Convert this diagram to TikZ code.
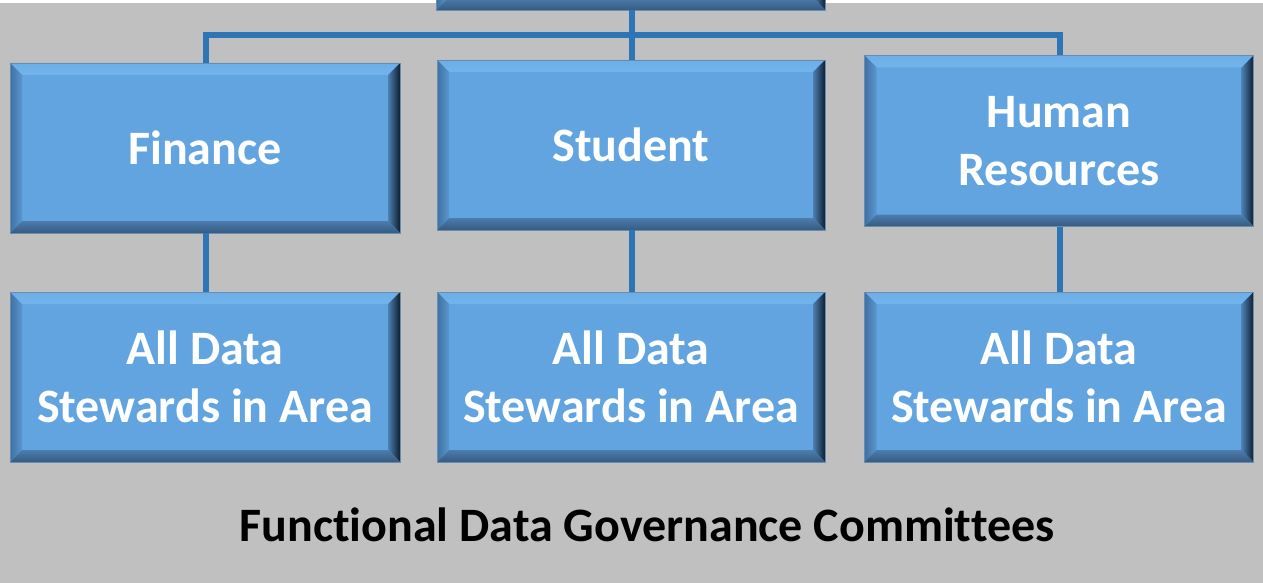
\documentclass[tikz,border=0pt]{standalone}
\usepackage{fontspec}
\setmainfont{Carlito}[Ligatures=NoCommon]
\definecolor{bg}{HTML}{C0C0C0}
\definecolor{boxfill}{HTML}{62A4E0}
\definecolor{boxline}{HTML}{6A8CAE}
\definecolor{topfill}{HTML}{4677A8}
\definecolor{connc}{HTML}{2E75B6}
\definecolor{bevTa}{HTML}{6CAEE8}
\definecolor{bevTb}{HTML}{9AD5FF}
\definecolor{bevTc}{HTML}{64A7E2}
\definecolor{bevLa}{HTML}{3F71A3}
\definecolor{bevLb}{HTML}{5A97CF}
\definecolor{bevRa}{HTML}{4C80B3}
\definecolor{bevRb}{HTML}{0F1F30}
\definecolor{bevBa}{HTML}{4C7DAE}
\definecolor{bevBb}{HTML}{355A80}
\newcommand{\boxfont}{\fontsize{48}{58}\selectfont\bfseries}
\newcommand{\capfont}{\fontsize{48}{56}\selectfont\bfseries}
\tikzset{
  bevbox/.style={rectangle, inner sep=0pt, outer sep=0pt,
    minimum width=390pt, minimum height=170pt,
    fill=#1, draw=boxline, line width=0.8pt,
    text=white, font=\boxfont, align=center,
    path picture={
      \shade[top color=bevTa, bottom color=bevTc, middle color=bevTb]
        (path picture bounding box.north west) -- (path picture bounding box.north east)
        -- ([shift={(-12pt,-12pt)}]path picture bounding box.north east)
        -- ([shift={(12pt,-12pt)}]path picture bounding box.north west) -- cycle;
      \shade[left color=bevLa, right color=bevLb]
        (path picture bounding box.north west) -- ([shift={(12pt,-12pt)}]path picture bounding box.north west)
        -- ([shift={(12pt,12pt)}]path picture bounding box.south west)
        -- (path picture bounding box.south west) -- cycle;
      \shade[left color=bevRa, right color=bevRb]
        (path picture bounding box.north east) -- ([shift={(-12pt,-12pt)}]path picture bounding box.north east)
        -- ([shift={(-12pt,12pt)}]path picture bounding box.south east)
        -- (path picture bounding box.south east) -- cycle;
      \shade[top color=bevBa, bottom color=bevBb]
        (path picture bounding box.south west) -- ([shift={(12pt,12pt)}]path picture bounding box.south west)
        -- ([shift={(-12pt,12pt)}]path picture bounding box.south east)
        -- (path picture bounding box.south east) -- cycle;
    }},
  bevbox/.default=boxfill,
  conn/.style={draw=connc, line width=5.5pt},
  captext/.style={text=black, font=\capfont, anchor=base, inner sep=0pt},
}
\begin{document}
\begin{tikzpicture}[x=1pt, y=-1pt]
  \useasboundingbox (0,0) rectangle (1263,583);
  \clip (0,0) rectangle (1263,583);
  \fill[white] (0,0) rectangle (1263,583);
  \fill[bg] (0,3) rectangle (1263,583);
  % top (clipped) box
  \node[bevbox=topfill, minimum width=389pt] (top) at (631,-75) {};
  % boxes
  \node[bevbox] (fin) at (205,148) {Finance};
  \node[bevbox, minimum width=388pt] (stu) at (631,145) {Student};
  \node[bevbox, minimum width=389pt, minimum height=171pt] (hr) at (1059,141) {Human\\Resources};
  \node[bevbox] (finB) at (205,377) {All Data\\Stewards in Area};
  \node[bevbox, minimum width=388pt] (stuB) at (631,377) {All Data\\Stewards in Area};
  \node[bevbox, minimum width=389pt] (hrB) at (1059,377) {All Data\\Stewards in Area};
  % coordinates of the bus
  \coordinate (busL) at (206,35);
  \coordinate (busM) at (632,35);
  \coordinate (busR) at (1060,35);
  % connectors
  \draw[conn] (top.south -| busM) -- (busM);
  \draw[conn] (fin.north -| busL) -- (busL) -- (busR) -- (hr.north -| busR);
  \draw[conn] (busM) -- (stu.north -| busM);
  \draw[conn] (fin.south -| busL) -- (finB.north -| busL);
  \draw[conn] (stu.south -| busM) -- (stuB.north -| busM);
  \draw[conn] (hr.south -| busR) -- (hrB.north -| busR);
  \node[captext] (cap) at (647,541) {Functional Data Governance Committees};
\end{tikzpicture}
\end{document}
